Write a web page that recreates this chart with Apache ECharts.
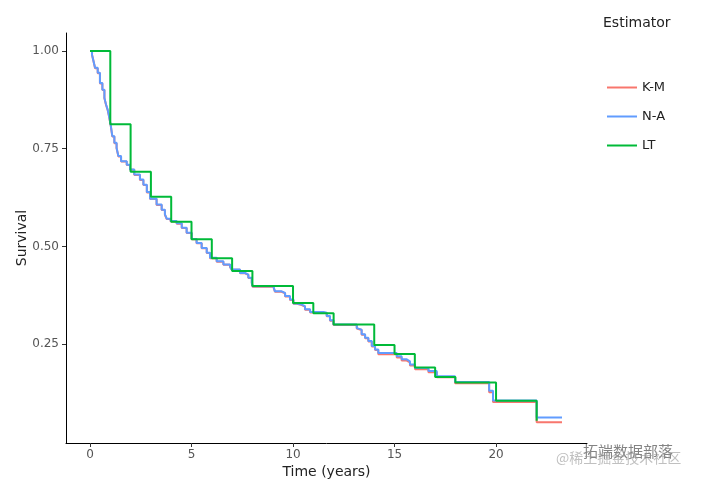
<!DOCTYPE html>
<html><head><meta charset="utf-8">
<script src="https://cdn.jsdelivr.net/npm/echarts@6/dist/echarts.min.js"></script>
<style>html,body{margin:0;padding:0;background:#fff}#c{width:705px;height:484px}</style>
</head><body><div id="c"></div>
<script>
// Kaplan-Meier estimate (time, survival)
const kmTime = [0,0.10,0.16,0.25,0.38,0.49,0.61,0.71,0.79,0.87,0.94,1.03,1.10,1.20,1.31,1.40,1.53,1.81,1.97,2.18,2.46,2.63,2.80,2.96,3.28,3.53,3.69,3.78,3.97,4.27,4.52,4.76,5.01,5.25,5.50,5.75,5.91,6.24,6.57,6.90,6.98,7.39,7.64,7.80,7.97,8.01,9.03,9.11,9.44,9.61,9.85,10.02,10.18,10.43,10.59,10.84,11.49,11.66,11.82,11.99,13.14,13.22,13.38,13.55,13.71,13.88,14.04,14.20,15.11,15.35,15.60,15.76,16.01,16.67,17.08,17.98,19.66,19.85,22.00,23.25];
const kmSurv = [1.000,0.990,0.977,0.956,0.943,0.917,0.900,0.879,0.862,0.849,0.832,0.806,0.781,0.764,0.751,0.730,0.717,0.708,0.696,0.683,0.670,0.657,0.638,0.621,0.606,0.593,0.581,0.570,0.564,0.558,0.547,0.534,0.518,0.508,0.495,0.483,0.470,0.461,0.453,0.447,0.440,0.431,0.427,0.419,0.406,0.397,0.393,0.384,0.380,0.372,0.363,0.353,0.350,0.346,0.338,0.331,0.329,0.321,0.310,0.299,0.290,0.286,0.274,0.265,0.257,0.244,0.235,0.224,0.216,0.208,0.203,0.195,0.186,0.178,0.165,0.150,0.127,0.102,0.050,0.050];
// Nelson-Aalen estimate (time, survival)
const naTime = kmTime;
const naSurv = [1.000,0.990,0.977,0.957,0.944,0.918,0.901,0.880,0.863,0.850,0.833,0.807,0.782,0.765,0.752,0.731,0.718,0.709,0.697,0.684,0.671,0.658,0.639,0.622,0.607,0.594,0.582,0.571,0.565,0.559,0.548,0.535,0.519,0.509,0.496,0.484,0.471,0.462,0.454,0.448,0.441,0.432,0.428,0.420,0.407,0.398,0.394,0.385,0.381,0.373,0.364,0.354,0.351,0.347,0.339,0.332,0.330,0.322,0.311,0.300,0.291,0.287,0.275,0.266,0.258,0.245,0.236,0.227,0.219,0.211,0.206,0.198,0.189,0.181,0.168,0.153,0.131,0.106,0.062,0.062];
// Life-table estimate (interval start, survival)
const ltTime = [0,1,2,3,4,5,6,7,8,9,10,11,12,13,14,15,16,17,18,19,20,21,22];
const ltSurv = [1.000,0.8125,0.691,0.627,0.563,0.518,0.470,0.437,0.399,0.399,0.355,0.329,0.300,0.300,0.248,0.225,0.190,0.166,0.152,0.152,0.105,0.105,0.054];
const xTicks = [0,5,10,15,20];
const yTicks = [0.25,0.50,0.75,1.00];
const seriesNames = ['K-M','N-A','LT'];
const colors = ['#F8766D','#619CFF','#00BA38'];

const zip = (a,b)=>a.map((v,i)=>[v,b[i]]);
const font = 'DejaVu Sans, Verdana, sans-serif';
const chart = echarts.init(document.getElementById('c'));
chart.setOption({
  animation:false,
  title:{text:'Estimator',left:598,top:11,textStyle:{fontFamily:font,fontSize:14,fontWeight:'normal',color:'#222'}},
  legend:{orient:'vertical',left:602,top:76,icon:'rect',itemWidth:30,itemHeight:2,itemGap:16,
    data:seriesNames,textStyle:{fontFamily:font,fontSize:13,color:'#222'}},
  grid:{left:66,right:118,top:33,bottom:41},
  xAxis:{type:'value',min:-1.182,max:24.48,
    name:'Time (years)',nameLocation:'middle',nameGap:22,nameMoveOverlap:false,
    nameTextStyle:{fontFamily:font,fontSize:14,color:'#222'},
    axisLine:{show:true,onZero:false,lineStyle:{color:'#000',width:1}},
    axisTick:{show:true,length:4,lineStyle:{color:'#333'},customValues:xTicks},
    axisLabel:{customValues:xTicks,fontFamily:font,fontSize:12,color:'#555',margin:6},
    splitLine:{show:false}},
  yAxis:{type:'value',min:-0.003,max:1.046,
    name:'Survival',nameLocation:'middle',nameGap:37,nameRotate:90,nameMoveOverlap:false,
    nameTextStyle:{fontFamily:font,fontSize:14,color:'#222'},
    axisLine:{show:true,onZero:false,lineStyle:{color:'#000',width:1}},
    axisTick:{show:true,length:4,lineStyle:{color:'#333'},customValues:yTicks},
    axisLabel:{customValues:yTicks,formatter:v=>v.toFixed(2),fontFamily:font,fontSize:12,color:'#555',margin:7},
    splitLine:{show:false}},
  graphic:[
    {type:'text',left:583,top:444,style:{text:'拓端数据部落',font:'15px "Noto Sans CJK SC"',fill:'rgba(90,90,90,0.75)'}},
    {type:'text',left:556,top:451,style:{text:'@稀土掘金技术社区',font:'14px "Noto Sans CJK SC"',fill:'rgba(150,150,150,0.6)'}}
  ],
  series:[
    {name:seriesNames[0],type:'line',step:'end',symbol:'none',data:zip(kmTime,kmSurv),lineStyle:{color:colors[0],width:2},itemStyle:{color:colors[0]}},
    {name:seriesNames[1],type:'line',step:'end',symbol:'none',data:zip(naTime,naSurv),lineStyle:{color:colors[1],width:2},itemStyle:{color:colors[1]}},
    {name:seriesNames[2],type:'line',step:'end',symbol:'none',data:zip(ltTime,ltSurv),lineStyle:{color:colors[2],width:2},itemStyle:{color:colors[2]}}
  ]
});
</script></body></html>
